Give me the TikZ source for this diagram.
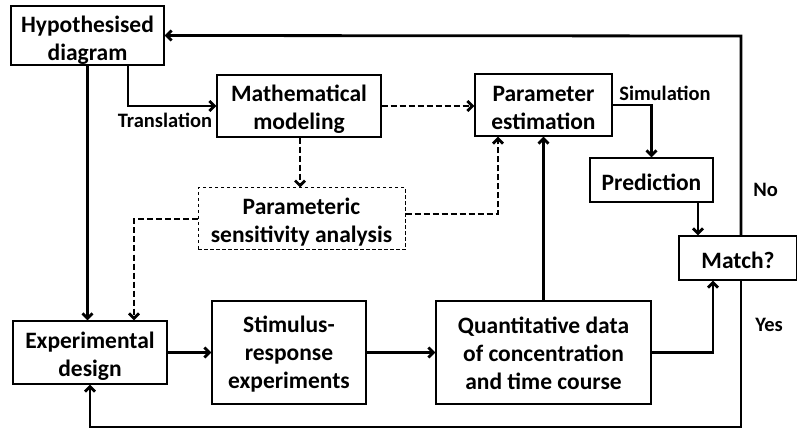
\documentclass[tikz,border=0pt]{standalone}
\usepackage{fontspec}
\setmainfont{Carlito}
\usetikzlibrary{arrows.meta}
\begin{document}
\begin{tikzpicture}[x=1pt,y=-1pt,
  box/.style={draw, line width=1.3pt, fill=white, inner sep=0pt},
  dbox/.style={box, line width=1pt, dash pattern=on 3.5pt off 2.5pt},
  txt/.style={align=center, inner sep=0pt, font=\fontsize{23.5}{28}\selectfont\bfseries},
  lbl/.style={inner sep=0pt, font=\fontsize{20.5}{24}\selectfont\bfseries},
  arr/.style={line width=2.8pt, -{Straight Barb[length=5pt,width=10pt]}},
  dsh/.style={arr, dash pattern=on 6pt off 3pt}]
\useasboundingbox[fill=white] (0,0) rectangle (797,430);

\node[box, minimum width=153pt, minimum height=59pt] (hyp) at (87.5,35.5) {};
\node[box, minimum width=164pt, minimum height=62pt] (math) at (299,106) {};
\node[dbox, minimum width=207pt, minimum height=62pt] (pse) at (301.5,219) {};
\node[box, minimum width=137pt, minimum height=62pt] (pest) at (543.5,105) {};
\node[box, minimum width=123pt, minimum height=44pt] (pred) at (651.5,180) {};
\node[box, minimum width=118pt, minimum height=44pt] (match) at (738,258) {};
\node[box, minimum width=154pt, minimum height=63pt] (exp) at (90,352.5) {};
\node[box, minimum width=154pt, minimum height=103pt] (stim) at (289,352.5) {};
\node[box, minimum width=215pt, minimum height=103pt] (quant) at (543.5,352.5) {};

\node[txt] (hypt) at ([yshift=-4.5pt]hyp.center) {Hypothesised\\diagram};
\node[txt] (matht) at ([yshift=-3.5pt]math.center) {Mathematical\\modeling};
\node[txt] (pset) at ([yshift=-3pt]pse.center) {Parameteric\\sensitivity analysis};
\node[txt] (pestt) at ([yshift=-2.5pt]pest.center) {Parameter\\estimation};
\node[txt] (predt) at ([yshift=-2pt]pred.center) {Prediction};
\node[txt] (matcht) at ([yshift=-2.5pt]match.center) {Match?};
\node[txt] (expt) at ([yshift=-3.5pt]exp.center) {Experimental\\design};
\node[txt] (stimt) at ([yshift=-2pt]stim.center) {Stimulus-\\response\\experiments};
\node[txt] (quantt) at ([yshift=-1pt]quant.center) {Quantitative data\\of concentration\\and time course};

\node[lbl] (ltr) at (165,120) {Translation};
\node[lbl] (lsim) at (665,93) {Simulation};
\node[lbl] (lno) at (765.5,189.5) {No};
\node[lbl] (lyes) at (769,324.5) {Yes};

\coordinate (fbtop) at (741,36);
\coordinate (fbbot) at (741,427);

% feedback loops
\draw[arr] (match.north -| fbtop) -- (fbtop) -- (hyp.east);
\draw[arr] (match.south -| fbbot) -- (fbbot) -| (exp.south);

% solid arrows
\draw[arr] (hyp.south) -- (hyp.south |- exp.north);
\draw[arr] (hyp.south -| 128,0) |- (math.west);
\draw[arr] (exp.east) -- (stim.west);
\draw[arr] (stim.east) -- (quant.west);
\draw[arr] (quant.north) -- (pest.south);
\draw[arr] (pest.east) -| (pred.north);
\draw[arr] (pred.south -| 698,0) -- (match.north -| 698,0);
\draw[arr] (quant.east) -| (match.south -| 713,0);

% dashed arrows
\draw[dsh] (math.south -| 300,0) -- (pse.north -| 300,0);
\draw[dsh] (math.east) -- (pest.west |- math.east);
\draw[dsh] (pse.west) -| (exp.north -| 134,0);
\draw[dsh] ([yshift=5pt]pse.east) -| (pest.south -| 498,0);
\end{tikzpicture}
\end{document}
